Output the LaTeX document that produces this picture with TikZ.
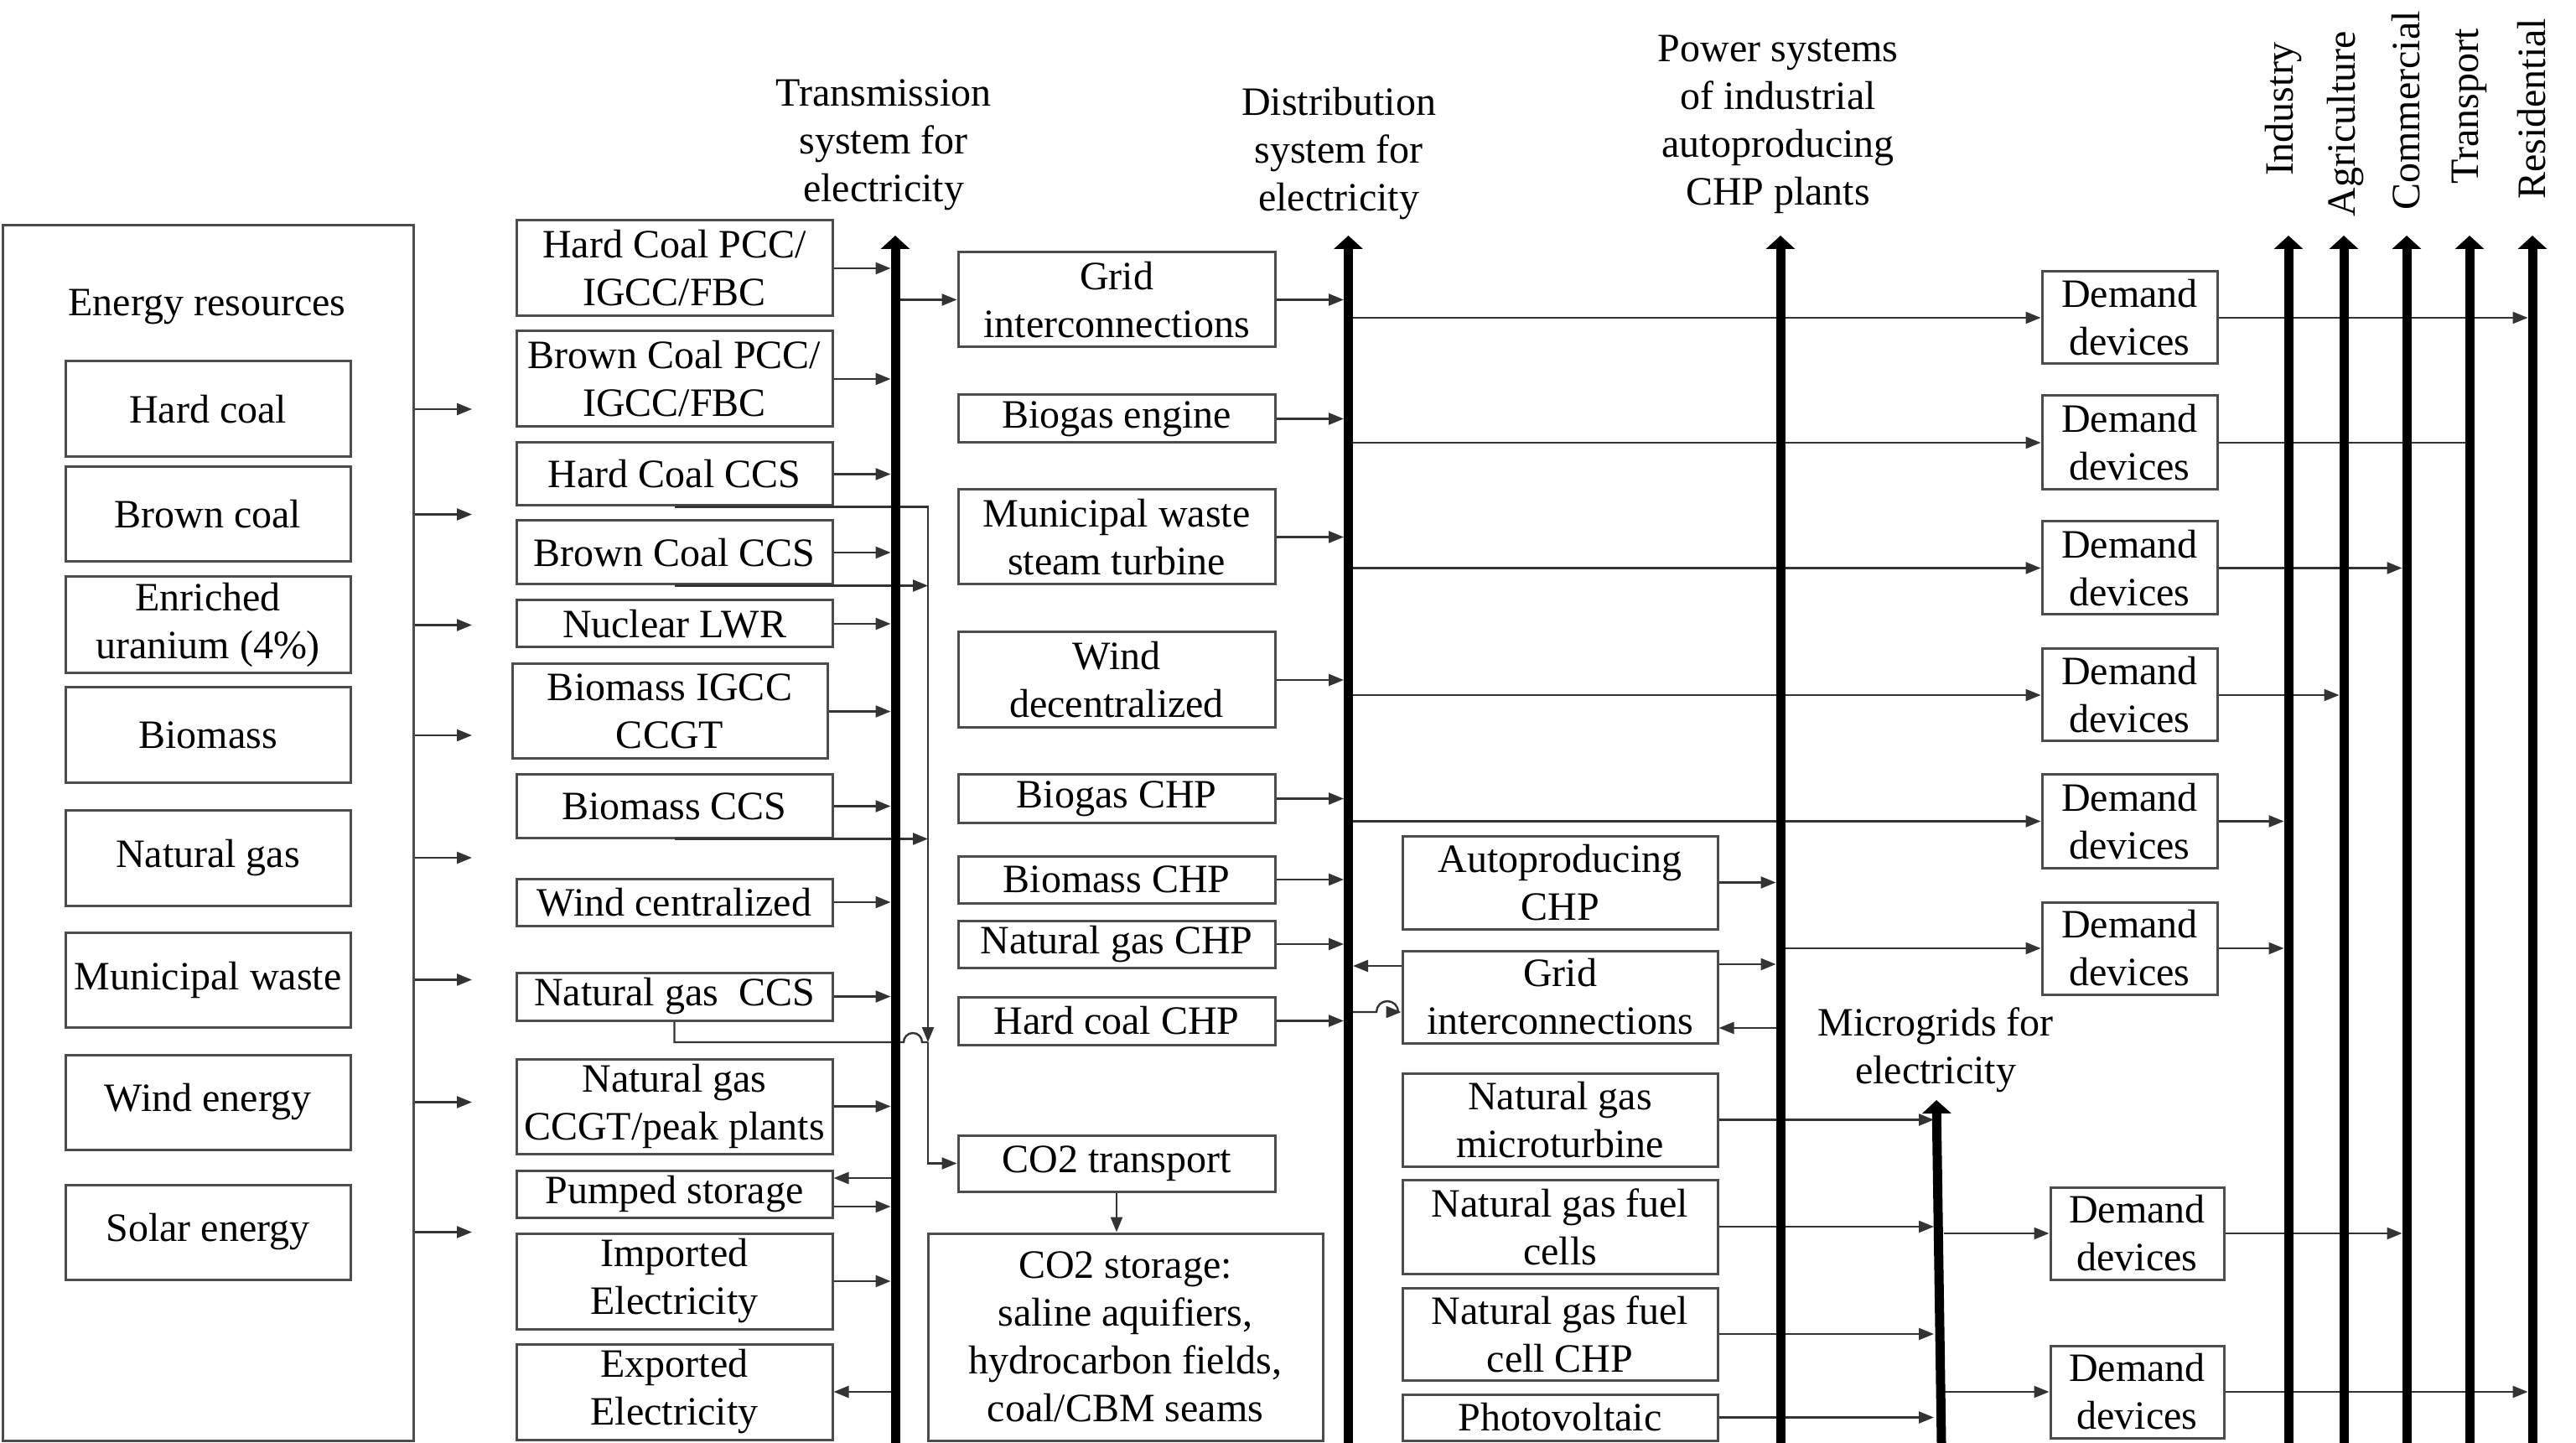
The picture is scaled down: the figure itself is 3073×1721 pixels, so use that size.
\documentclass[tikz,border=0pt]{standalone}
\usepackage{fontspec}
\setmainfont{Liberation Serif}
\usetikzlibrary{arrows.meta,calc}
\newcommand\mybox[7][]{%
  \pgfmathsetmacro\myBW{(#5-#3)*0.25}%
  \pgfmathsetmacro\myBH{(#6-#4)*0.25}%
  \node[box,minimum width=\myBW pt,minimum height=\myBH pt,#1] (#2) at ({(#3+#5)/2},{(#4+#6)/2}) {#7};}
\tikzset{
  box/.style={draw=black!70, line width=0.75pt, inner sep=0pt, align=center, font=\fontsize{12pt}{14.25pt}\selectfont},
  lbl/.style={inner sep=0pt, align=center, font=\fontsize{12pt}{14.25pt}\selectfont},
  conn/.style={draw=black!80, line width=0.6pt},
  arr/.style={conn, -{Triangle[length=4.5pt,width=3.5pt]}},
  bus/.style={line width=2.75pt, -{Triangle[length=4pt,width=8.5pt]}},
}
\begin{document}
\begin{tikzpicture}[x=0.25pt,y=-0.25pt]
\useasboundingbox (0,0) rectangle (3073,1721);

% ---------- Energy resources ----------
\mybox{res}{3}{269}{493}{1718}{}
\node[lbl] (restitle) at (247,366) {Energy resources};
\mybox{hc}{78}{431}{418}{545}{Hard coal}
\mybox{bc}{78}{557}{418}{670}{Brown coal}
\mybox{eu}{78}{688}{418}{803}{Enriched\\uranium (4\%)}
\mybox{bm}{78}{820}{418}{934}{Biomass}
\mybox{ng}{78}{966}{418}{1080}{Natural gas}
\mybox{mw}{78}{1112}{418}{1225}{Municipal waste}
\mybox{we}{78}{1258}{418}{1371}{Wind energy}
\mybox{se}{78}{1413}{418}{1526}{Solar energy}
\coordinate (EA) at (563,0);
\foreach \n in {hc,bc,eu,bm,ng,mw,we,se}
  \draw[arr] (res.east |- \n) -- (EA |- \n);

% ---------- Transmission column ----------
\mybox{thcp}{616}{263}{993}{377}{Hard Coal PCC/\\IGCC/FBC}
\mybox{tbcp}{616}{395}{993}{509}{Brown Coal PCC/\\IGCC/FBC}
\mybox{thcc}{616}{528}{993}{603}{Hard Coal CCS}
\mybox{tbcc}{616}{621}{993}{697}{Brown Coal CCS}
\mybox{tnuc}{616}{716}{993}{772}{Nuclear LWR}
\mybox{tbig}{611}{792}{987}{905}{Biomass IGCC\\CCGT}
\mybox{tbmc}{616}{924}{993}{999}{Biomass CCS}
\mybox{twc}{616}{1048}{993}{1104}{Wind centralized}
\mybox{tngc}{616}{1160}{993}{1217}{Natural gas~~CCS}
\mybox{tngp}{616}{1263}{993}{1376}{Natural gas\\CCGT/peak plants}
\mybox{tps}{616}{1396}{993}{1452}{Pumped storage}
\mybox{tie}{616}{1471}{993}{1585}{Imported\\Electricity}
\mybox{tee}{616}{1603}{993}{1717}{Exported\\Electricity}

\node[lbl] (ltr) at (1054,173) {Transmission\\system for\\electricity};
\coordinate (TBL) at (1062.5,0);
\coordinate (TBR) at (1073.5,0);
\foreach \n in {thcp,tbcp,thcc,tbcc,tnuc,tbig,tbmc,twc,tngc,tngp,tie}
  \draw[arr] (\n.east) -- (\n.east -| TBL);
\coordinate (ps1) at ([yshift=4.75pt]tps.east);
\coordinate (ps2) at ([yshift=-3.75pt]tps.east);
\draw[arr] (ps1 -| TBL) -- (ps1);
\draw[arr] (ps2) -- (ps2 -| TBL);
\draw[arr] (tee.east -| TBL) -- (tee.east);

% ---------- Distribution column ----------
\mybox{dgi}{1143}{301}{1521}{414}{Grid\\interconnections}
\mybox{dbe}{1143}{471}{1521}{528}{Biogas engine}
\mybox{dmw}{1143}{584}{1521}{697}{Municipal waste\\steam turbine}
\mybox{dwd}{1143}{754}{1521}{868}{Wind\\decentralized}
\mybox{dbg}{1143}{924}{1521}{981}{Biogas CHP}
\mybox{dbm}{1143}{1021}{1521}{1077}{Biomass CHP}
\mybox{dng}{1143}{1098}{1521}{1154}{Natural gas CHP}
\mybox{dhc}{1143}{1189}{1521}{1246}{Hard coal CHP}
\mybox{co2t}{1143}{1354}{1521}{1421}{CO2 transport}
\mybox{co2s}{1107}{1471}{1578}{1718}{CO2 storage:\\saline aquifiers,\\hydrocarbon fields,\\coal/CBM seams}

\draw[arr] (TBR |- dgi.west) -- (dgi.west);

% CCS collection line
\coordinate (CX) at (1107,0);
\coordinate (J) at (1107,1243);
\draw[arr] (thcc.south) -- (thcc.south -| CX) -- (J);
\draw[arr] (tbcc.south) -- (tbcc.south -| CX);
\draw[arr] (tbmc.south) -- (tbmc.south -| CX);
\draw[conn] (tngc.south) -- (tngc.south |- J) -- (1078,1243)
  arc[start angle=180,end angle=0,radius=2.75pt] -- (J);
\draw[arr] (J) |- (co2t.west);
\draw[arr] (co2t.south) -- (co2t.south |- co2s.north);

\node[lbl] (ldi) at (1597,183) {Distribution\\system for\\electricity};
\coordinate (DBL) at (1603,0);
\coordinate (DBR) at (1614,0);
\foreach \n in {dgi,dbe,dmw,dwd,dbg,dbm,dng,dhc}
  \draw[arr] (\n.east) -- (\n.east -| DBL);

% ---------- Industrial autoproducers ----------
\mybox{iac}{1673}{997}{2049}{1108}{Autoproducing\\CHP}
\mybox{igi}{1673}{1134}{2049}{1244}{Grid\\interconnections}
\mybox{imt}{1673}{1280}{2049}{1391}{Natural gas\\microturbine}
\mybox{ifc}{1673}{1407}{2049}{1519}{Natural gas fuel\\cells}
\mybox{ifh}{1673}{1536}{2049}{1646}{Natural gas fuel\\cell CHP}
\mybox{ipv}{1673}{1663}{2049}{1718}{Photovoltaic}

\node[lbl] (lps) at (2121,148) {Power systems\\of industrial\\autoproducing\\CHP plants};
\coordinate (IBL) at (2118.5,0);
\coordinate (IBR) at (2129.5,0);
\draw[arr] (iac.east) -- (iac.east -| IBL);
\coordinate (igA) at ([yshift=9.75pt]igi.east);
\coordinate (igB) at ([yshift=-9.25pt]igi.east);
\draw[arr] (igA) -- (igA -| IBL);
\draw[arr] (igB -| IBL) -- (igB);
\coordinate (igC) at ([yshift=9.25pt]igi.west);
\coordinate (igD) at ([yshift=-4.5pt]igi.west);
\draw[arr] (igC) -- (igC -| DBR);
\draw[arr] (igD -| DBR) -- (1642,1207)
  arc[start angle=180,end angle=0,radius=3.25pt] -- (igD);

% ---------- Microgrids ----------
\node[lbl] (lmg) at (2309,1252) {Microgrids for\\electricity};
\coordinate (MGL) at (2307,0);
\coordinate (MGR) at (2319,0);
\foreach \n in {imt,ifc,ifh,ipv}
  \draw[arr] (\n.east) -- (\n.east -| MGL);

% ---------- Demand devices ----------
\mybox{dd1}{2436}{324}{2645}{434}{Demand\\devices}
\mybox{dd2}{2436}{472}{2645}{584}{Demand\\devices}
\mybox{dd3}{2436}{622}{2645}{733}{Demand\\devices}
\mybox{dd4}{2436}{774}{2645}{884}{Demand\\devices}
\mybox{dd5}{2436}{924}{2645}{1035}{Demand\\devices}
\mybox{dd6}{2436}{1076}{2645}{1186}{Demand\\devices}
\mybox{dd7}{2446}{1416}{2653}{1526}{Demand\\devices}
\mybox{dd8}{2446}{1605}{2653}{1715}{Demand\\devices}

\foreach \n in {dd1,dd2,dd3,dd4,dd5}
  \draw[arr] (DBR |- \n.west) -- (\n.west);
\draw[arr] (IBR |- dd6.west) -- (dd6.west);
\draw[arr] (MGR |- dd7.west) -- (dd7.west);
\draw[arr] (MGR |- dd8.west) -- (dd8.west);

% ---------- Sectors ----------
\coordinate (IND) at (2724.5,0);
\coordinate (AGR) at (2790.5,0);
\coordinate (COM) at (2865.5,0);
\coordinate (TRA) at (2946,0);
\coordinate (RES) at (3015.5,0);
\draw[arr] (dd1.east) -- (dd1.east -| RES);
\draw[conn] (dd2.east) -- (dd2.east -| TRA);
\draw[arr] (dd3.east) -- (dd3.east -| COM);
\draw[arr] (dd4.east) -- (dd4.east -| AGR);
\draw[arr] (dd5.east) -- (dd5.east -| IND);
\draw[arr] (dd6.east) -- (dd6.east -| IND);
\draw[arr] (dd7.east) -- (dd7.east -| COM);
\draw[arr] (dd8.east) -- (dd8.east -| RES);

\node[lbl,rotate=90] (lind) at (2724,130) {Industry};
\node[lbl,rotate=90] (lagr) at (2798,148) {Agriculture};
\node[lbl,rotate=90] (lcom) at (2870,132) {Commercial};
\node[lbl,rotate=90] (ltra) at (2946,127) {Transport};
\node[lbl,rotate=90] (lres) at (3020,130) {Residential};

% ---------- Buses ----------
\draw[bus] (1068,1721) -- (1068,281);
\draw[bus] (1608.5,1721) -- (1608.5,281);
\draw[bus] (2124,1721) -- (2124,281);
\draw[bus] (2316,1721) -- (2310,1312);
\foreach \x in {2730,2796,2871,2946,3021}
  \draw[bus] (\x,1721) -- (\x,281);
\end{tikzpicture}
\end{document}
